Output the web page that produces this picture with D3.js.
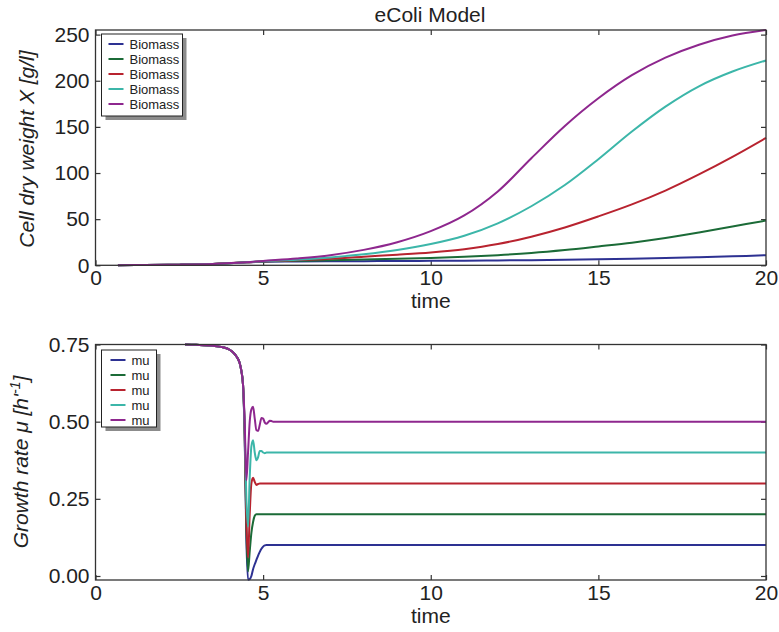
<!DOCTYPE html>
<html>
<head>
<meta charset="utf-8" />
<title>eColi Model</title>
<script src="https://d3js.org/d3.v7.min.js"></script>
<style>
  body { margin: 0; background: #fff; }
  text { font-family: "Liberation Sans", Arial, sans-serif; fill: #222; }
</style>
</head>
<body>
<script>
// ---- data ----
var seriesColors = ["#2d3192", "#1b6b37", "#b8232f", "#3cb6a9", "#8e278e"];
var biomassLabels = ["Biomass", "Biomass", "Biomass", "Biomass", "Biomass"];
var muLabels = ["mu", "mu", "mu", "mu", "mu"];
var xTicks = [0, 5, 10, 15, 20];
var biomassTicks = [0, 50, 100, 150, 200, 250];
var muTicks = [0, 0.25, 0.5, 0.75];

var biomassTime = [0.67, 1.5, 2.5, 3.5, 4.5, 5, 6, 7, 8, 9, 10, 11, 12, 13, 14, 15, 16, 17, 18, 19, 20];
var biomass1 = [0.1, 0.3, 0.7, 1.5, 3.2, 3.9, 4.1, 4.3, 4.5, 4.6, 4.8, 5.0, 5.3, 5.6, 6.0, 6.5, 7.1, 7.8, 8.7, 9.7, 11];
var biomass2 = [0.1, 0.3, 0.7, 1.5, 3.2, 4.1, 4.8, 5.5, 6.3, 7.1, 8.0, 9.3, 11, 13.3, 16.5, 20.4, 24.5, 29.5, 35.5, 42, 48.5];
var biomass3 = [0.1, 0.3, 0.7, 1.5, 3.2, 4.3, 5.4, 7.0, 9.3, 11.5, 14, 17.5, 23, 31, 41, 53, 66, 81, 98.5, 117.5, 138];
var biomass4 = [0.1, 0.3, 0.7, 1.5, 3.2, 4.5, 6.0, 8.5, 11.9, 16.5, 23, 32, 45.5, 64, 87, 115, 145, 172, 194, 210, 222];
var biomass5 = [0.1, 0.3, 0.7, 1.5, 3.2, 4.7, 7.4, 11, 16.7, 25, 37, 54, 80, 116, 151, 181, 206, 225, 239, 249, 255];

var muTime = [2.67, 3.0, 3.5, 3.8, 4.0, 4.1, 4.2, 4.3, 4.35, 4.4, 4.45, 4.5, 4.55, 4.6, 4.65, 4.7, 4.75, 4.8, 4.85, 4.9, 4.95, 5.0, 5.05, 5.1, 5.15, 5.2, 5.25, 5.3, 5.4, 5.6, 6, 10, 20];
var mu1 = [0.75, 0.749, 0.746, 0.741, 0.733, 0.725, 0.712, 0.69, 0.665, 0.62, 0.45, 0.12, -0.012, -0.01, 0.0, 0.022, 0.038, 0.052, 0.066, 0.078, 0.088, 0.095, 0.099, 0.1, 0.1, 0.1, 0.1, 0.1, 0.1, 0.1, 0.1, 0.1, 0.1];
var mu2 = [0.75, 0.749, 0.746, 0.741, 0.733, 0.725, 0.712, 0.69, 0.665, 0.62, 0.46, 0.15, 0.015, 0.08, 0.14, 0.175, 0.195, 0.2, 0.2, 0.2, 0.2, 0.2, 0.2, 0.2, 0.2, 0.2, 0.2, 0.2, 0.2, 0.2, 0.2, 0.2, 0.2];
var mu3 = [0.75, 0.749, 0.746, 0.741, 0.733, 0.725, 0.712, 0.69, 0.665, 0.62, 0.47, 0.18, 0.06, 0.2, 0.3, 0.318, 0.305, 0.295, 0.298, 0.3, 0.3, 0.3, 0.3, 0.3, 0.3, 0.3, 0.3, 0.3, 0.3, 0.3, 0.3, 0.3, 0.3];
var mu4 = [0.75, 0.749, 0.746, 0.741, 0.733, 0.725, 0.712, 0.69, 0.665, 0.62, 0.48, 0.25, 0.16, 0.32, 0.42, 0.44, 0.4, 0.375, 0.385, 0.405, 0.405, 0.4, 0.398, 0.4, 0.4, 0.4, 0.4, 0.4, 0.4, 0.4, 0.4, 0.4, 0.4];
var mu5 = [0.75, 0.749, 0.746, 0.741, 0.733, 0.725, 0.712, 0.69, 0.665, 0.62, 0.5, 0.31, 0.4, 0.5, 0.54, 0.548, 0.51, 0.472, 0.47, 0.49, 0.512, 0.51, 0.497, 0.493, 0.498, 0.503, 0.502, 0.5, 0.5, 0.5, 0.5, 0.5, 0.5];

var biomassSeries = [biomass1, biomass2, biomass3, biomass4, biomass5];
var muSeries = [mu1, mu2, mu3, mu4, mu5];

var svg = d3.select("body").append("svg")
    .attr("width", 779)
    .attr("height", 632);

// title
svg.append("text")
    .attr("x", 430).attr("y", 22)
    .attr("text-anchor", "middle")
    .style("font-size", "21px")
    .text("eColi Model");

function drawPanel(box, yDomain, yTicks, yFormat, time, series, labels, legendBox, curve) {
  var x = d3.scaleLinear().domain([0, 20]).range([box.left, box.right]);
  var y = d3.scaleLinear().domain(yDomain).range([box.bottom, box.top]);

  var g = svg.append("g");

  // ticks pointing inward on all four sides
  g.append("g")
      .attr("transform", "translate(0," + box.bottom + ")")
      .call(d3.axisBottom(x).tickValues(xTicks).tickSize(-5).tickPadding(5).tickFormat(d3.format("d")))
      .call(styleAxis);
  g.append("g")
      .attr("transform", "translate(0," + box.top + ")")
      .call(d3.axisTop(x).tickValues(xTicks).tickSize(-5).tickFormat(""))
      .call(styleAxis);
  g.append("g")
      .attr("transform", "translate(" + box.left + ",0)")
      .call(d3.axisLeft(y).tickValues(yTicks).tickSize(-5).tickPadding(6).tickFormat(yFormat))
      .call(styleAxis);
  g.append("g")
      .attr("transform", "translate(" + box.right + ",0)")
      .call(d3.axisRight(y).tickValues(yTicks).tickSize(-5).tickFormat(""))
      .call(styleAxis);

  var line = d3.line()
      .x(function(d) { return x(d[0]); })
      .y(function(d) { return y(d[1]); })
      .curve(curve);

  series.forEach(function(vals, i) {
    g.append("path")
        .datum(time.map(function(t, j) { return [t, vals[j]]; }))
        .attr("d", line)
        .attr("fill", "none")
        .attr("stroke", seriesColors[i])
        .attr("stroke-width", 2);
  });

  // frame
  g.append("rect")
      .attr("x", box.left).attr("y", box.top)
      .attr("width", box.right - box.left).attr("height", box.bottom - box.top)
      .attr("fill", "none").attr("stroke", "#333").attr("stroke-width", 1.3);

  // x label
  g.append("text")
      .attr("x", (box.left + box.right) / 2).attr("y", box.bottom + 43)
      .attr("text-anchor", "middle")
      .style("font-size", "21px")
      .text("time");

  // legend with shadow
  var lg = g.append("g").attr("transform", "translate(" + legendBox.x + "," + legendBox.y + ")");
  lg.append("rect")
      .attr("x", 4).attr("y", 4)
      .attr("width", legendBox.w).attr("height", legendBox.h)
      .attr("fill", "#8c8c8c");
  lg.append("rect")
      .attr("width", legendBox.w).attr("height", legendBox.h)
      .attr("fill", "#fff").attr("stroke", "#222").attr("stroke-width", 1);
  labels.forEach(function(lab, i) {
    var yy = 10 + i * legendBox.step;
    lg.append("line")
        .attr("x1", legendBox.lx).attr("x2", legendBox.lx + 15)
        .attr("y1", yy).attr("y2", yy)
        .attr("stroke", seriesColors[i]).attr("stroke-width", 2);
    lg.append("text")
        .attr("x", legendBox.lx + 21).attr("y", yy + 4.5)
        .style("font-size", "13px")
        .text(lab);
  });
  return g;
}

function styleAxis(sel) {
  sel.select(".domain").remove();
  sel.selectAll(".tick line").attr("stroke", "#333").attr("stroke-width", 1.2);
  sel.selectAll(".tick text").style("font-size", "21px").attr("fill", "#222")
      .style("font-family", "'Liberation Sans', Arial, sans-serif");
}

// top panel: biomass
drawPanel({left: 95.5, right: 766, top: 30, bottom: 265.3}, [0, 255], biomassTicks,
    d3.format("d"), biomassTime, biomassSeries, biomassLabels,
    {x: 101.5, y: 34, w: 81, h: 82, step: 15, lx: 7}, d3.curveCatmullRom.alpha(0.5));

svg.append("text")
    .attr("transform", "translate(34,149) rotate(-90)")
    .attr("text-anchor", "middle")
    .style("font-size", "21px")
    .style("font-style", "italic")
    .text("Cell dry weight X [g/l]");

// bottom panel: growth rate
drawPanel({left: 95.5, right: 766, top: 344.5, bottom: 580}, [-0.013, 0.75], muTicks,
    d3.format(".2f"), muTime, muSeries, muLabels,
    {x: 101.5, y: 350, w: 55, h: 77, step: 15, lx: 9}, d3.curveMonotoneX);

var muLabel = svg.append("text")
    .attr("transform", "translate(28,462) rotate(-90)")
    .attr("text-anchor", "middle")
    .style("font-size", "21px")
    .style("font-style", "italic");
muLabel.append("tspan").text("Growth rate \u03bc [h'");
muLabel.append("tspan").attr("dy", -8).style("font-size", "14px").text("-1");
muLabel.append("tspan").attr("dy", 8).text("]");
</script>
</body>
</html>
